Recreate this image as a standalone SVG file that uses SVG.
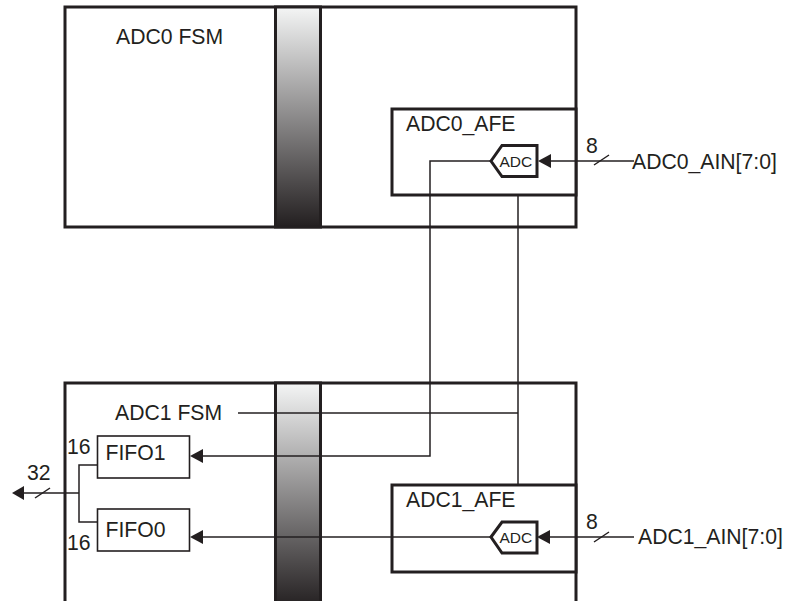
<svg xmlns="http://www.w3.org/2000/svg" width="785" height="601" viewBox="0 0 785 601">
<style>
text{font-family:"Liberation Sans",Arial,sans-serif;font-size:21.2px;fill:#231f20}
.box{fill:#fff;stroke:#231f20;stroke-width:3}
.thin{fill:#fff;stroke:#231f20;stroke-width:1.6}
.bar{fill:url(#g);stroke:#231f20;stroke-width:3}
.w{fill:none;stroke:#231f20;stroke-width:1.5}
.adc{fill:#fff;stroke:#231f20;stroke-width:3}
.ah{fill:#231f20}
.small{font-size:15.5px}
</style>
<defs><linearGradient id="g" x1="0" y1="0" x2="0" y2="1"><stop offset="0" stop-color="#f4f5f5"/><stop offset="1" stop-color="#231f20"/></linearGradient></defs>
<rect width="785" height="601" fill="#fff"/>
<g id="adc0-fsm">
<rect class="box" x="65" y="7" width="511" height="220"/>
<rect class="bar" x="275.500" y="7" width="45" height="220"/>
<text x="116" y="44">ADC0 FSM</text>
</g>
<g id="adc1-fsm">
<path d="M65 601V383H576V601" class="box"/>
<rect class="bar" x="275.500" y="383" width="45" height="225"/>
<text x="115" y="420">ADC1 FSM</text>
</g>
<g id="adc0-afe">
<rect class="box" x="392" y="109" width="184" height="86"/>
<text x="406" y="131">ADC0_AFE</text>
</g>
<g id="adc1-afe">
<rect class="box" x="392" y="485" width="184" height="87"/>
<text x="406" y="507">ADC1_AFE</text>
</g>
<g id="connectors">
<path class="w" d="M491 161H430V456H200"/>
<path class="w" d="M518 195V485"/>
<path class="w" d="M238 413H518"/>
<path class="w" d="M491 537H200"/>
<path class="w" d="M550 161H634"/>
<path class="w" d="M550 537H634"/>
<path class="w" d="M594 165L609 155M594 542L609 532"/>
<path class="w" d="M97 465H79V522H97M79 493H24"/>
<path class="w" d="M35 498L50 488"/>
<polygon class="ah" points="538,161 551,154 551,168"/>
<polygon class="ah" points="537,537 550,530 550,544"/>
<polygon class="ah" points="190,456 203,449 203,463"/>
<polygon class="ah" points="190,537 203,530 203,544"/>
<polygon class="ah" points="12,493 24,486 24,500"/>
</g>
<g id="adc0"><polygon class="adc" points="491,161 502,145.500 537,145.500 537,176.500 502,176.500"/><text class="small" x="499.500" y="167">ADC</text></g>
<g id="adc1"><polygon class="adc" points="491,537 502,522 537,522 537,553 502,553"/><text class="small" x="499.500" y="543">ADC</text></g>
<g id="fifo1"><rect class="thin" x="97.500" y="436" width="92" height="42"/><text x="105.500" y="460">FIFO1</text></g>
<g id="fifo0"><rect class="thin" x="97.500" y="509" width="92" height="42"/><text x="105.500" y="537">FIFO0</text></g>
<g id="labels">
<text x="586" y="153">8</text>
<text x="586" y="529">8</text>
<text x="632" y="169">ADC0_AIN[7:0]</text>
<text x="638" y="544">ADC1_AIN[7:0]</text>
<text x="27" y="480">32</text>
<text x="67" y="454">16</text>
<text x="67" y="550">16</text>
</g>
</svg>
